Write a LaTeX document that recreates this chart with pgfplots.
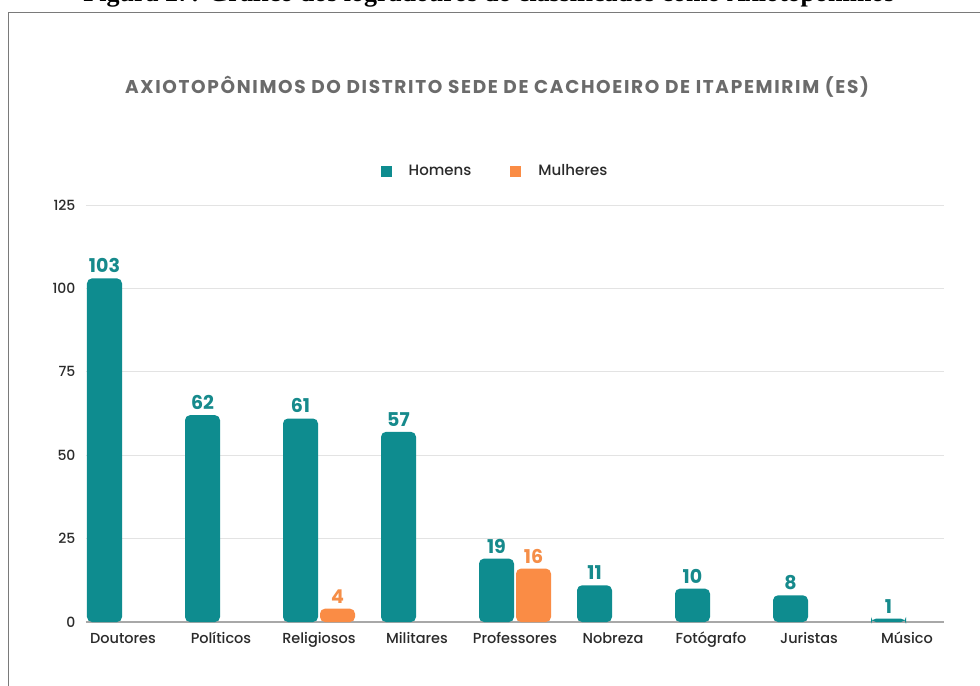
\documentclass[border=0pt]{standalone}
\usepackage{fontspec}
\setmainfont{Poppins}
\newfontfamily\pmed{Poppins Medium}
\newfontfamily\capfont{Liberation Serif}
\usepackage{pgfplots}
\pgfplotsset{compat=1.18}
\definecolor{teal1}{HTML}{0E8C8F}
\definecolor{orange1}{HTML}{FA8C45}
\definecolor{tealtxt}{HTML}{168A8C}
\definecolor{orangetxt}{HTML}{F58E48}
\definecolor{titlegray}{HTML}{6B6B6B}
\definecolor{gridgray}{HTML}{E3E3E3}
\definecolor{basegray}{HTML}{A8A8A8}
\definecolor{labelgray}{HTML}{2A2A2A}
\definecolor{framegray}{HTML}{7A7A7A}
\begin{document}
\begin{tikzpicture}
\useasboundingbox (0,0) rectangle (980bp,686bp);
\clip (0,0) rectangle (980bp,686bp);
\fill[white] (0,0) rectangle (980bp,686bp);
% caption (cut off at top)
\node[anchor=base, inner sep=0pt] at (489bp,684bp) {\resizebox{811bp}{!}{\capfont\bfseries Figura 27: Gráfico dos logradouros do classificados como Axiotopônimos}};
% frame
\draw[framegray, line width=1.6bp] (8.5bp,-20bp) -- (8.5bp,673.5bp) -- (1000bp,673.5bp);
% title
\node[anchor=center, inner sep=0pt, text=titlegray] at (497bp,599bp) {\fontsize{18.5bp}{22bp}\selectfont\addfontfeatures{LetterSpace=9}\bfseries AXIOTOPÔNIMOS DO DISTRITO SEDE DE CACHOEIRO DE ITAPEMIRIM (ES)};
\begin{axis}[
  at={(123bp,64bp)}, anchor=origin,
  x=98bp, y=3.336bp,
  xmin=-0.378, xmax=8.378, ymin=0, ymax=125,
  axis line style={draw=none},
  major tick length=0pt,
  ytick={25,50,75,100,125},
  extra y ticks={0},
  extra y tick style={grid style={basegray, line width=1.4bp}},
  ymajorgrids,
  grid style={gridgray, line width=0.9bp},
  xtick={0,1,2,3,4,5,6,7,8},
  xticklabels={Doutores,Políticos,Religiosos,Militares,Professores,Nobreza,Fotógrafo,Juristas,Músico},
  x tick label style={font=\pmed\fontsize{14.5bp}{17bp}\selectfont, text=labelgray, text height=11bp, text depth=3.5bp, yshift=-7bp},
  y tick label style={font=\pmed\fontsize{14bp}{17bp}\selectfont, text=labelgray, xshift=-7bp},
  /pgf/number format/assume math mode=true,
  clip=false,
  ybar, bar width=35bp,
  nodes near coords,
  every node near coord/.append style={font=\fontsize{19bp}{21bp}\selectfont\bfseries, yshift=2bp},
  legend style={at={(axis description cs:0.4767,1.0815)}, anchor=center, draw=none, fill=none,
    font=\pmed\fontsize{15bp}{18bp}\selectfont, text=labelgray, legend columns=2,
    /tikz/every even column/.append style={column sep=37bp}},
  legend image code/.code={\fill[#1,draw=none,sharp corners] (0bp,-5.5bp) rectangle (11bp,5.5bp); \path (26bp,0bp);},
]
\addplot[fill=teal1, draw=none, bar shift=-18.5bp, rounded corners=5bp,
  every node near coord/.append style={text=tealtxt}]
  coordinates {(0,103) (1,62) (2,61) (3,57) (4,19) (5,11) (6,10) (7,8) (8,1)};
\addlegendentry{Homens}
\addplot[fill=orange1, draw=none, bar shift=18.5bp, rounded corners=5bp,
  every node near coord/.append style={text=orangetxt}]
  coordinates {(2,4) (4,16)};
\addlegendentry{Mulheres}
\end{axis}
\end{tikzpicture}
\end{document}
